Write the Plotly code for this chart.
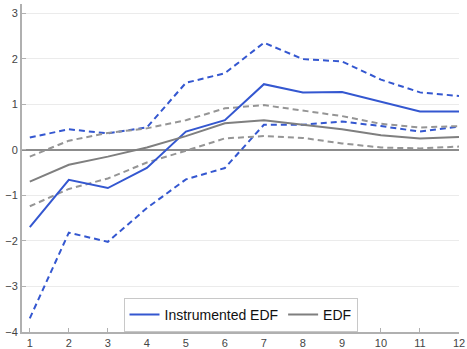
import plotly.graph_objects as go

horizon = list(range(1, 13))

instr_edf = [-1.70, -0.66, -0.84, -0.40, 0.40, 0.65, 1.44, 1.26, 1.27, 1.05, 0.84, 0.84]
instr_upper = [0.27, 0.45, 0.36, 0.49, 1.47, 1.68, 2.35, 1.99, 1.94, 1.54, 1.26, 1.18]
instr_lower = [-3.70, -1.82, -2.02, -1.28, -0.65, -0.40, 0.55, 0.55, 0.62, 0.52, 0.40, 0.51]

edf = [-0.70, -0.33, -0.15, 0.05, 0.30, 0.58, 0.65, 0.55, 0.45, 0.32, 0.25, 0.28]
edf_upper = [-0.15, 0.20, 0.37, 0.47, 0.65, 0.91, 0.98, 0.86, 0.74, 0.57, 0.49, 0.52]
edf_lower = [-1.24, -0.86, -0.63, -0.28, -0.02, 0.25, 0.30, 0.26, 0.14, 0.05, 0.03, 0.07]

y_ticks = [-4, -3, -2, -1, 0, 1, 2, 3]

BLUE = "#3457d0"
GRAY = "#7f7f7f"
GRAY_D = "#959595"
DASH = "6px,4px"

fig = go.Figure()
fig.add_trace(go.Scatter(x=horizon, y=instr_upper, mode="lines", showlegend=False,
                         line=dict(color=BLUE, width=2, dash=DASH)))
fig.add_trace(go.Scatter(x=horizon, y=instr_lower, mode="lines", showlegend=False,
                         line=dict(color=BLUE, width=2, dash=DASH)))
fig.add_trace(go.Scatter(x=horizon, y=edf_upper, mode="lines", showlegend=False,
                         line=dict(color=GRAY_D, width=2, dash=DASH)))
fig.add_trace(go.Scatter(x=horizon, y=edf_lower, mode="lines", showlegend=False,
                         line=dict(color=GRAY_D, width=2, dash=DASH)))
fig.add_trace(go.Scatter(x=horizon, y=instr_edf, mode="lines", name="Instrumented EDF",
                         line=dict(color=BLUE, width=2)))
fig.add_trace(go.Scatter(x=horizon, y=edf, mode="lines", name="EDF",
                         line=dict(color=GRAY, width=2)))

fig.update_layout(
    width=467, height=349,
    margin=dict(l=22, r=8, t=4, b=17, autoexpand=False),
    paper_bgcolor="white", plot_bgcolor="white",
    font=dict(family="Liberation Sans, Arial, sans-serif", size=11, color="#333333"),
    legend=dict(orientation="h", x=0.5, xanchor="center", y=0.0, yanchor="bottom",
                bgcolor="white", bordercolor="#c8c8c8", borderwidth=1,
                font=dict(size=14, color="#111111"),
                itemwidth=30, tracegroupgap=0),
)
fig.update_xaxes(range=[0.8, 12.0], tickvals=horizon, showgrid=False, zeroline=False,
                 showline=True, linecolor="#b0b0b0", linewidth=2, automargin=False,
                 ticks="inside", ticklen=4, tickcolor="#b0b0b0", tickwidth=1,
                 ticklabeloverflow="allow",
                 tickfont=dict(size=11, color="#444444"))
fig.update_yaxes(range=[-4, 3.2], tickvals=y_ticks, showgrid=True, gridcolor="#ebebeb",
                 gridwidth=1, zeroline=True, zerolinecolor="#8c8c8c", zerolinewidth=2,
                 showline=True, linecolor="#b0b0b0", linewidth=2, automargin=False,
                 ticks="inside", ticklen=4, tickcolor="#b0b0b0", tickwidth=1,
                 ticklabeloverflow="allow",
                 tickfont=dict(size=11, color="#444444"))

fig.write_html("out.html")
